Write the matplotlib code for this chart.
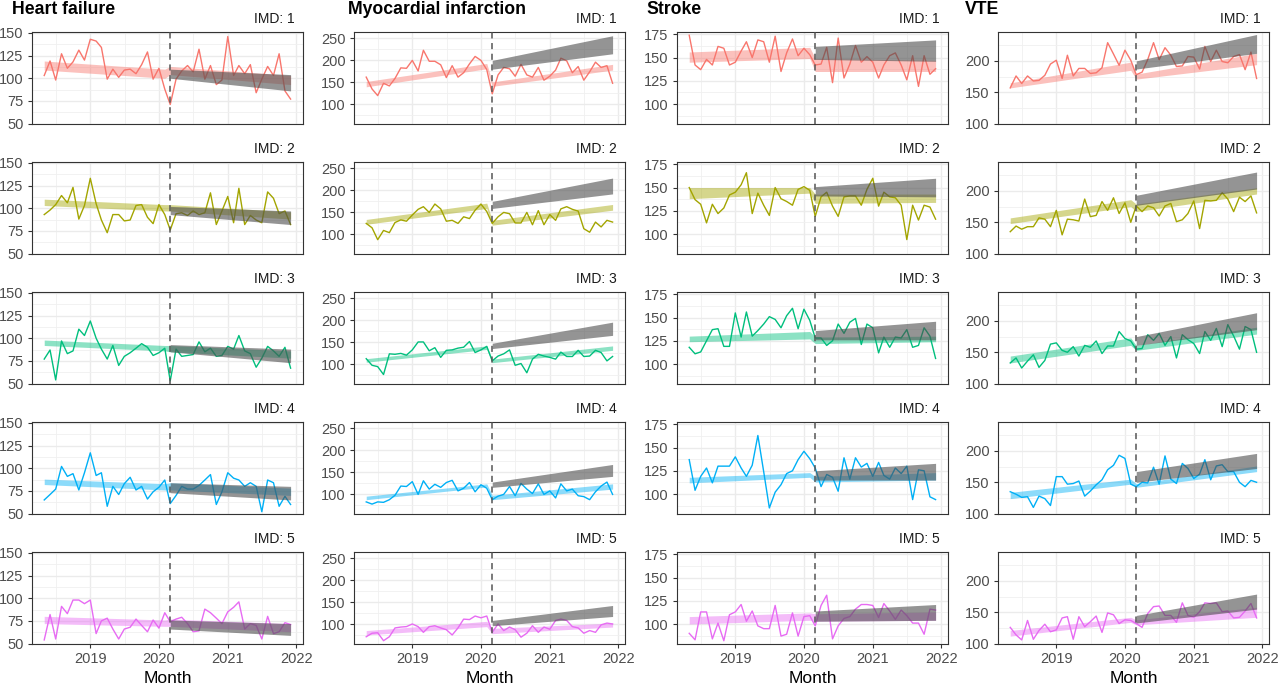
import numpy as np
import pandas as pd
import matplotlib
matplotlib.use('Agg')
import matplotlib.pyplot as plt

plt.rcParams['font.family'] = ['Liberation Sans', 'DejaVu Sans']

# ---------------- data ----------------
months = pd.date_range('2018-05-01', periods=44, freq='MS')
conditions = ['Heart failure', 'Myocardial infarction', 'Stroke', 'VTE']
imd_levels = ['1', '2', '3', '4', '5']
imd_colors = ['#F8766D', '#A3A500', '#00BF7D', '#00B0F6', '#E76BF3']
lockdown = pd.Timestamp('2020-03-01')
fit_dates = pd.to_datetime(['2018-05-01', '2020-02-01', '2020-03-01', '2021-12-01'])
cf_dates = pd.to_datetime(['2020-03-01', '2021-12-01'])

hf_imd1 = [103,119,98,127,111,118,131,120,143,141,134,99,110,101,109,110,105,115,129,99,111,88,71,99,108,114,107,132,99,114,93,98,146,103,114,105,115,84,99,113,103,127,86,77]
hf_imd2 = [93,98,104,114,106,123,88,103,133,105,87,73,93,93,86,87,103,104,90,83,104,93,76,94,95,92,97,93,95,117,82,97,113,84,122,82,92,87,84,118,111,94,97,82]
hf_imd3 = [77,87,54,97,83,86,110,103,119,100,88,77,92,70,80,84,89,94,90,81,84,89,53,88,80,81,82,96,85,89,80,81,91,88,103,86,83,68,78,91,86,80,90,67]
hf_imd4 = [65,71,77,102,91,94,76,95,117,92,95,58,80,71,83,90,76,80,66,74,79,87,61,70,80,77,77,81,87,93,60,74,95,89,87,80,84,80,52,87,84,58,69,60]
hf_imd5 = [54,82,55,91,83,98,98,94,98,61,75,78,66,55,66,68,77,70,63,76,67,84,74,77,79,72,63,64,88,84,78,72,85,90,96,66,72,70,55,80,61,63,73,71]

mi_imd1 = [162,135,120,148,142,159,183,182,200,176,223,198,198,190,161,188,162,172,192,209,200,179,124,167,184,181,164,191,167,162,184,155,164,178,205,199,172,186,155,174,196,184,188,148]
mi_imd2 = [125,115,88,109,104,127,133,130,144,157,163,150,169,158,130,132,125,140,136,155,169,152,125,140,150,147,126,126,150,122,154,122,145,132,158,163,157,153,113,105,128,117,132,128]
mi_imd3 = [113,98,95,77,124,123,125,121,133,151,151,131,138,116,132,133,137,139,152,127,133,141,108,119,124,133,98,102,81,112,123,119,116,112,128,118,118,132,118,119,132,127,108,118]
mi_imd4 = [83,78,83,82,88,98,119,118,129,100,131,112,123,116,127,132,108,114,127,106,122,114,88,96,100,118,97,125,112,102,124,100,108,92,124,108,112,97,95,88,106,119,128,100]
mi_imd5 = [72,80,81,63,72,92,94,95,101,95,82,95,97,92,88,76,92,112,111,119,115,119,82,101,86,94,88,71,80,97,82,94,89,109,112,109,95,92,80,86,82,99,103,101]

st_imd1 = [174,142,137,148,142,162,160,142,145,157,167,150,169,167,145,173,135,155,170,152,160,153,142,143,161,123,171,128,143,163,145,151,145,128,142,152,155,142,126,152,119,152,132,138]
st_imd2 = [150,137,132,112,132,122,128,142,145,153,166,122,144,131,120,150,138,135,131,148,151,147,119,140,145,130,119,140,141,141,131,148,160,130,145,140,139,131,94,131,115,131,129,116]
st_imd3 = [118,111,113,125,137,138,119,119,155,129,156,130,136,143,151,148,139,152,160,138,159,147,128,128,120,125,143,133,145,149,121,143,139,112,129,118,129,128,137,118,120,139,130,106]
st_imd4 = [137,104,119,128,112,130,130,130,140,128,119,131,163,124,85,102,110,122,125,137,146,138,128,108,121,118,103,139,116,139,129,133,119,134,120,116,128,122,130,94,126,125,97,94]
st_imd5 = [90,83,113,113,84,101,82,110,113,121,103,114,98,95,95,120,87,89,112,87,108,109,98,120,131,84,98,106,108,116,121,121,120,107,122,114,105,115,109,101,101,89,116,115]

vte_imd1 = [157,176,164,176,168,169,177,195,201,172,209,176,188,188,180,181,189,229,211,193,217,201,178,182,202,229,202,221,209,191,192,207,206,187,223,199,217,199,197,207,210,186,214,172]
vte_imd2 = [135,144,139,143,143,157,155,143,169,130,155,154,152,187,159,161,183,169,189,164,181,150,176,167,176,173,160,176,180,151,154,164,184,140,185,184,185,197,187,167,190,183,192,165]
vte_imd3 = [133,141,125,136,146,126,137,163,165,153,150,159,144,161,158,168,148,160,160,183,172,168,155,156,178,169,180,161,175,141,178,170,164,148,183,169,188,159,194,176,155,191,186,150]
vte_imd4 = [135,131,126,127,110,128,124,113,159,159,147,148,152,128,136,146,154,170,177,193,188,147,143,150,149,174,147,192,155,148,180,172,156,163,186,154,176,178,167,167,150,143,153,150]
vte_imd5 = [126,114,106,137,107,121,131,119,122,141,143,107,143,127,135,144,118,149,146,132,138,137,132,126,148,159,160,145,145,134,165,145,142,151,165,164,165,151,152,141,142,152,164,141]

# fitted model bands: [May 2018, Feb 2020, Mar 2020, Dec 2021]
hf_fit_lo = [[109,100,104,93],[103,97,97,88],[92,86,85,78],[82,76,76,70],[72,69,69,63]]
hf_fit_hi = [[119,110,113,103],[110,104,104,96],[98,92,92,86],[88,83,84,78],[80,76,77,72]]
mi_fit_lo = [[140,181,141,178],[123,159,121,155],[105,134,104,132],[88,117,88,112],[76,95,79,94]]
mi_fit_hi = [[152,193,151,191],[134,171,132,168],[113,142,112,142],[96,124,98,124],[86,107,91,103]]
st_fit_lo = [[145,149,135,135],[138,144,133,134],[124,127,122,124],[112,118,113,115],[100,104,103,104]]
st_fit_hi = [[156,161,149,147],[150,150,143,143],[130,135,129,130],[118,123,119,123],[108,112,111,113]]
vte_fit_lo = [[157,185,171,194],[148,175,167,195],[133,161,153,179],[124,147,142,167],[112,134,130,142]]
vte_fit_hi = [[165,198,179,212],[157,186,179,205],[144,173,161,190],[134,155,148,176],[121,142,138,158]]

# counterfactual bands: [Mar 2020, Dec 2021]
hf_cf_lo = [[100,86],[93,82],[85,73],[73,65],[66,59]]
hf_cf_hi = [[110,104],[102,97],[93,88],[84,80],[76,72]]
mi_cf_lo = [[180,215],[159,192],[136,166],[116,141],[97,118]]
mi_cf_hi = [[200,256],[175,228],[148,196],[128,168],[109,143]]
st_cf_lo = [[148,146],[141,140],[126,126],[115,115],[103,104]]
st_cf_hi = [[162,169],[151,160],[136,146],[125,133],[114,121]]
vte_cf_lo = [[187,212],[177,203],[161,186],[150,172],[133,155]]
vte_cf_hi = [[200,242],[193,230],[175,213],[167,196],[145,179]]

series = [[hf_imd1, hf_imd2, hf_imd3, hf_imd4, hf_imd5],
          [mi_imd1, mi_imd2, mi_imd3, mi_imd4, mi_imd5],
          [st_imd1, st_imd2, st_imd3, st_imd4, st_imd5],
          [vte_imd1, vte_imd2, vte_imd3, vte_imd4, vte_imd5]]
fit_lo = [hf_fit_lo, mi_fit_lo, st_fit_lo, vte_fit_lo]
fit_hi = [hf_fit_hi, mi_fit_hi, st_fit_hi, vte_fit_hi]
cf_lo = [hf_cf_lo, mi_cf_lo, st_cf_lo, vte_cf_lo]
cf_hi = [hf_cf_hi, mi_cf_hi, st_cf_hi, vte_cf_hi]

y_limits = [(49.5, 151), (55.5, 264.5), (78.5, 177.5), (99.5, 246)]
y_ticks = [[50, 75, 100, 125, 150], [100, 150, 200, 250], [100, 125, 150, 175], [100, 150, 200]]
y_minor = [[62.5, 87.5, 112.5, 137.5], [75, 125, 175, 225], [87.5, 112.5, 137.5, 162.5], [125, 175, 225]]
x_ticks = pd.to_datetime(['2019-01-01', '2020-01-01', '2021-01-01', '2022-01-01'])
x_tick_labels = ['2019', '2020', '2021', '2022']
x_minor = pd.to_datetime(['2018-07-02', '2019-07-02', '2020-07-02', '2021-07-02'])
x_limits = pd.to_datetime(['2018-02-25', '2022-02-05'])

# ---------------- layout ----------------
W, H = 1280, 686
fig = plt.figure(figsize=(W / 100, H / 100), dpi=100)
col_left = [32, 354, 677, 998]
row_top = [32, 162, 292, 422, 552]
ax_w, ax_h = 271, 92
title_x = [12, 348, 646, 965]

for c, cond in enumerate(conditions):
    fig.text(title_x[c] / W, 1 - 14 / H, cond, fontsize=12.7, fontweight='bold',
             ha='left', va='baseline', color='black')
    for r in range(5):
        ax = fig.add_axes([col_left[c] / W, 1 - (row_top[r] + ax_h) / H, ax_w / W, ax_h / H])
        col = imd_colors[r]
        ax.plot(months, series[c][r], color=col, lw=1.0, zorder=3)
        ax.fill_between(fit_dates, fit_lo[c][r], fit_hi[c][r], color=col, alpha=0.45,
                        lw=0, zorder=4)
        ax.fill_between(cf_dates, cf_lo[c][r], cf_hi[c][r], color='#4D4D4D', alpha=0.6,
                        lw=0, zorder=5)
        ax.axvline(lockdown, color='#555555', lw=1.1, ls=(0, (4, 3)), zorder=6)

        ax.set_xlim(x_limits[0], x_limits[1])
        ax.set_ylim(*y_limits[c])
        ax.set_yticks(y_ticks[c])
        ax.set_yticks(y_minor[c], minor=True)
        ax.set_xticks(x_ticks)
        ax.set_xticks(x_minor, minor=True)
        ax.set_xticklabels(x_tick_labels)
        ax.grid(which='major', color='#EBEBEB', lw=1.0, zorder=0)
        ax.grid(which='minor', color='#F0F0F0', lw=0.6, zorder=0)
        ax.set_axisbelow(True)
        for s in ax.spines.values():
            s.set_color('#333333')
            s.set_linewidth(0.8)
        ax.tick_params(axis='both', which='major', length=3, width=0.8, color='#333333',
                       labelsize=10.5, labelcolor='#4D4D4D', pad=3)
        ax.tick_params(axis='both', which='minor', length=0)
        if r < 4:
            ax.tick_params(axis='x', which='both', length=0, labelbottom=False)
        ax.text(1 - 8 / ax_w, 1 + 9 / ax_h, f'IMD: {imd_levels[r]}', transform=ax.transAxes,
                ha='right', va='baseline', fontsize=10, color='#1A1A1A')
    fig.text((col_left[c] + ax_w / 2) / W, 3 / H, 'Month', ha='center', va='baseline',
             fontsize=12.6, color='black')

fig.savefig('out.png', dpi=100)
